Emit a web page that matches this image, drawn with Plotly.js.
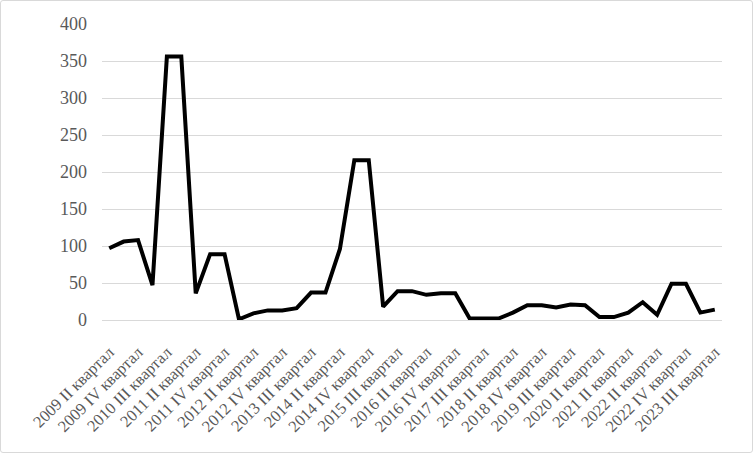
<!DOCTYPE html>
<html>
<head>
<meta charset="utf-8">
<script src="https://cdn.plot.ly/plotly-3.0.1.min.js"></script>
<style>
html,body{margin:0;padding:0;background:#fff;}
#wrap{position:relative;width:753px;height:453px;}
#chart{position:absolute;left:0;top:0;width:753px;height:453px;}
#frame{position:absolute;left:0;top:0;width:751px;height:451px;border:1px solid #d9d9d9;border-radius:3px;pointer-events:none;}
</style>
</head>
<body>
<div id="wrap"><div id="chart"></div><div id="frame"></div></div>
<script>
var categories = [
  "2009 II квартал","2009 III квартал","2009 IV квартал","2010 II квартал","2010 III квартал",
  "2011 I квартал","2011 II квартал","2011 III квартал","2011 IV квартал","2012 I квартал",
  "2012 II квартал","2012 III квартал","2012 IV квартал","2013 II квартал","2013 III квартал",
  "2014 I квартал","2014 II квартал","2014 III квартал","2014 IV квартал","2015 II квартал",
  "2015 III квартал","2016 I квартал","2016 II квартал","2016 III квартал","2016 IV квартал",
  "2017 II квартал","2017 III квартал","2018 I квартал","2018 II квартал","2018 III квартал",
  "2018 IV квартал","2019 II квартал","2019 III квартал","2020 I квартал","2020 II квартал",
  "2020 IV квартал","2021 II квартал","2021 IV квартал","2022 II квартал","2022 III квартал",
  "2022 IV квартал","2023 II квартал","2023 III квартал"
];
var values = [
  97, 106, 108, 47, 356,
  356, 36, 89, 89, 1,
  9, 13, 13, 16, 37,
  37, 96, 216, 216, 18,
  39, 39, 34, 36, 36,
  2, 2, 2, 10, 20,
  20, 17, 21, 20, 4,
  4, 10, 24, 7, 49,
  49, 10, 14
];
var tickLabels = categories.filter(function(c, i){ return i % 2 === 0; });

var trace = {
  type: "scatter",
  mode: "lines",
  x: categories,
  y: values,
  line: {color: "#000000", width: 4, shape: "linear"},
  hoverinfo: "x+y"
};

var serif = "Liberation Serif, Times New Roman, serif";
var layout = {
  width: 753,
  height: 453,
  margin: {l: 102, r: 31, t: 24, b: 133, pad: 0},
  paper_bgcolor: "#ffffff",
  plot_bgcolor: "#ffffff",
  showlegend: false,
  font: {family: serif, color: "#595959", size: 14},
  xaxis: {
    type: "category",
    range: [-0.5, categories.length - 0.5],
    tickmode: "array",
    tickvals: tickLabels,
    ticktext: tickLabels,
    tickangle: -45,
    showgrid: false,
    zeroline: false,
    showline: true,
    linecolor: "#d9d9d9",
    linewidth: 1,
    ticks: "",
    ticklabelstandoff: 15,
    tickfont: {family: serif, size: 16.5, color: "#595959"}
  },
  yaxis: {
    range: [0, 400],
    dtick: 50,
    tick0: 0,
    showgrid: true,
    gridcolor: "#d9d9d9",
    gridwidth: 1,
    zeroline: false,
    showline: false,
    ticks: "",
    ticklabelstandoff: 14,
    tickfont: {family: serif, size: 18, color: "#595959"}
  }
};

Plotly.newPlot("chart", [trace], layout, {displayModeBar: false, staticPlot: true});
</script>
</body>
</html>
